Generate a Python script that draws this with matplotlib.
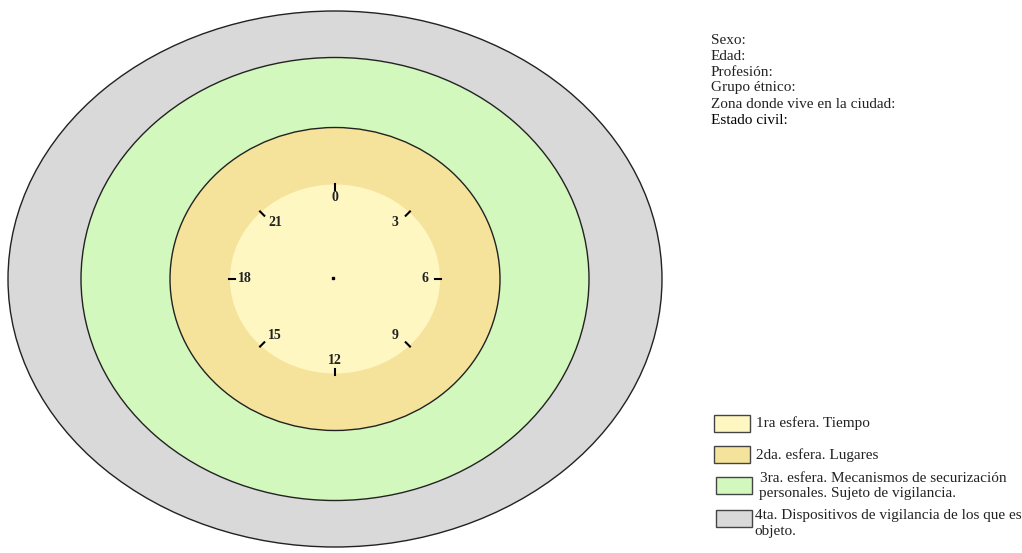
import matplotlib.pyplot as plt
import numpy as np
from matplotlib.patches import Ellipse, Rectangle

# sphere sizes (pixel units of the original diagram), outer to inner
esferas = ['4ta', '3ra', '2da', '1ra']
anchos = [654, 508, 330, 210]
altos = [536, 443, 303, 189]
colores = ['#d9d9d9', '#d3f8bd', '#f5e29b', '#fff7c2']

horas = [0, 3, 6, 9, 12, 15, 18, 21]

campos = ['Sexo:', 'Edad:', 'Profesión:', 'Grupo étnico:',
          'Zona donde vive en la ciudad:', 'Estado civil:']

leyenda = [['1ra esfera. Tiempo'],
           ['2da. esfera. Lugares'],
           ['3ra. esfera. Mecanismos de securización', 'personales. Sujeto de vigilancia.'],
           ['4ta. Dispositivos de vigilancia de los que es', 'objeto.']]
leyenda_colores = ['#fff7c2', '#f5e29b', '#d3f8bd', '#d9d9d9']

fig = plt.figure(figsize=(10.22, 5.53), dpi=100)
ax = fig.add_axes([0, 0, 1, 1])
ax.set_xlim(0, 1022)
ax.set_ylim(553, 0)
ax.axis('off')

cx, cy = 335, 279
for i, (w, h, c) in enumerate(zip(anchos, altos, colores)):
    ec = 'none' if i == 3 else '#222222'
    ax.add_patch(Ellipse((cx, cy), w, h, facecolor=c, edgecolor=ec, lw=1.0))

# clock on the inner sphere
rx, ry = anchos[3] / 2, altos[3] / 2
for hr in horas:
    a = np.deg2rad(90 - hr * 15)
    x0, y0 = cx + (rx + 1) * np.cos(a), cy - (ry + 1) * np.sin(a)
    x1, y1 = cx + (rx - 5) * np.cos(a), cy - (ry - 5) * np.sin(a)
    ax.plot([x0, x1], [y0, y1], color='black', lw=1.5)
    if hr % 6 == 0:
        xl, yl = cx + (rx - 15) * np.cos(a), cy - (ry - 13) * np.sin(a)
    else:
        xl, yl = cx + (rx - 20) * np.cos(a), cy - (ry - 14) * np.sin(a)
    ax.text(xl, yl, str(hr), ha='center', va='center', fontsize=10,
            fontweight='bold', family='Liberation Serif', color='#222222')
ax.plot(cx - 2, cy - 1, 's', color='black', ms=2)

for i, t in enumerate(campos):
    ax.text(711, 40 + i * 16, t, ha='left', va='center', fontsize=11,
            family='Liberation Serif', color='black' if i == 5 else '#222222')

cajas_y = [415, 446, 477, 510]
cajas_x = [714, 714, 716, 716]
texto_y = [423, 455, 479, 516]
texto_x = [756, 756, 760, 755]
for bx, by, c, tx, ty, lineas in zip(cajas_x, cajas_y, leyenda_colores, texto_x, texto_y, leyenda):
    ax.add_patch(Rectangle((bx, by), 36, 17, facecolor=c, edgecolor='#444444', lw=1.0))
    for j, t in enumerate(lineas):
        ax.text(tx - j, ty + j * 15, t, ha='left', va='center', fontsize=11,
                family='Liberation Serif', color='#222222')

fig.savefig('out.png', dpi=100)
